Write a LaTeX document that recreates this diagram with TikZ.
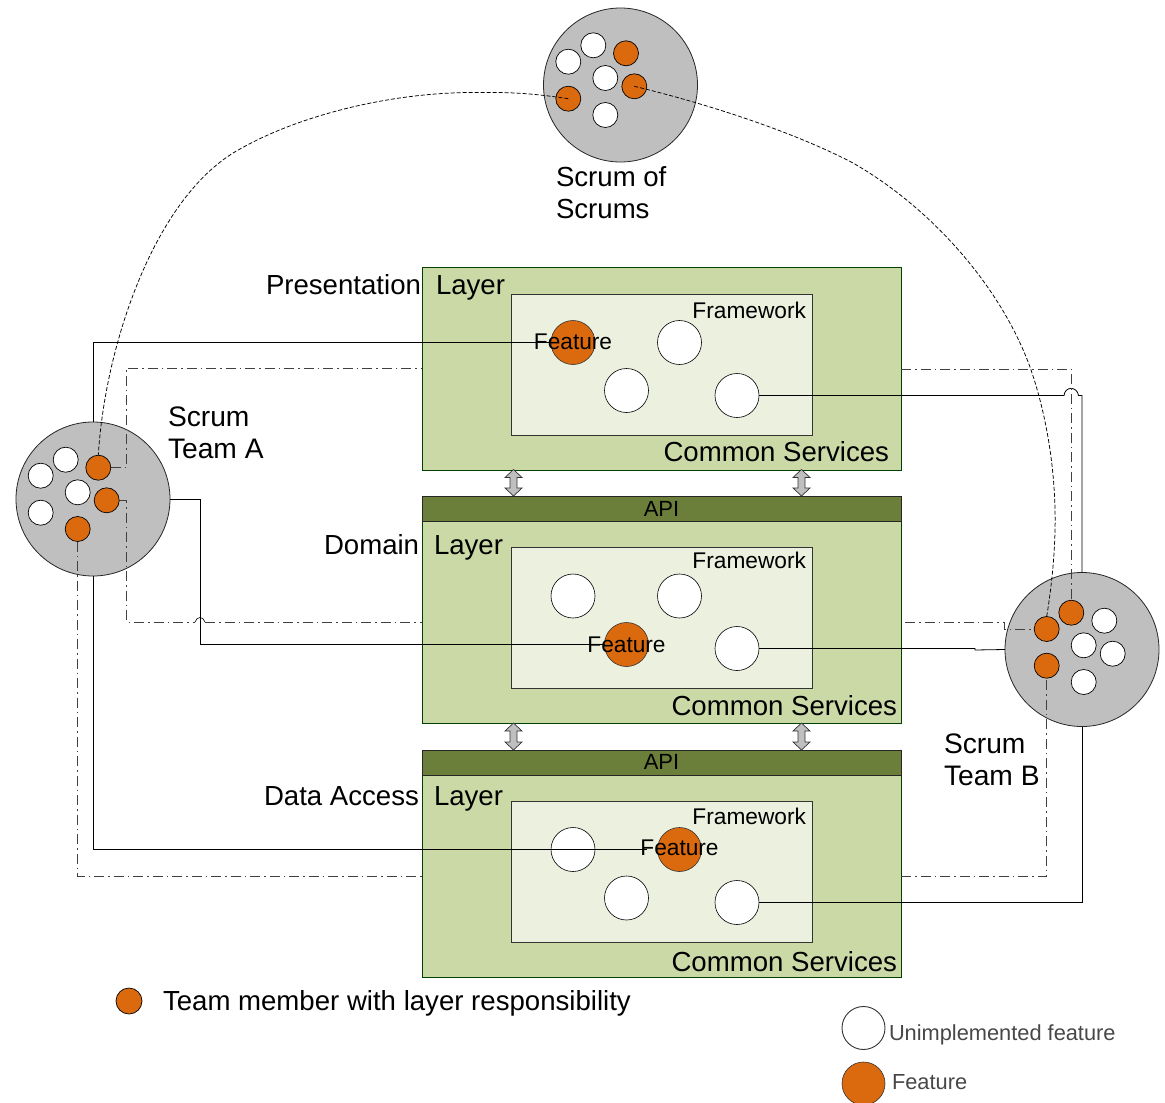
\documentclass[tikz,border=0pt]{standalone}
\usepackage{fontspec}
\setmainfont{Liberation Sans}
\pgfdeclarelayer{base}
\pgfdeclarelayer{conn}
\pgfsetlayers{base,conn,main}
\tikzset{
  px/.style={x=1pt,y=-1pt},
  every node/.style={inner sep=0pt,outer sep=0pt},
  layerbox/.style={draw=black!75!green,fill=layergreen,line width=0.8pt,anchor=north west},
  innerbox/.style={draw=black!80,fill=innergreen,line width=0.7pt,anchor=north west},
  apibar/.style={draw=black!85,fill=apigreen,line width=0.8pt,anchor=north west},
  team/.style={circle,draw=black!85,fill=teamgray,line width=0.8pt,minimum size=154pt},
  memberw/.style={circle,draw=black,fill=white,line width=0.7pt,minimum size=25pt},
  membero/.style={circle,draw=black,fill=featorange,line width=0.7pt,minimum size=25pt},
  featw/.style={circle,draw=black,fill=white,line width=0.6pt,minimum size=44pt},
  feato/.style={circle,draw=black!80,fill=featorange,line width=0.6pt,minimum size=44pt},
  big/.style={font=\fontsize{27.6}{32}\selectfont,anchor=west,align=left},
  bigbase/.style={big,anchor=base west},
  mid/.style={font=\fontsize{22.7}{27}\selectfont},
  feattxt/.style={mid,yshift=1.5pt},
  solidw/.style={draw=black,line width=0.8pt},
  dashw/.style={draw=black!75,line width=0.9pt,dash pattern=on 10pt off 4pt on 1.5pt off 4pt},
  curvew/.style={draw=black,line width=0.75pt,dash pattern=on 4pt off 2pt},
  dblarrow/.style={draw=black!80,fill=teamgray,line width=0.7pt},
  legendtxt/.style={font=\fontsize{21.8}{26}\selectfont,text=black!72,anchor=west},
}
\definecolor{layergreen}{HTML}{CBD9A7}
\definecolor{innergreen}{HTML}{EBF0DF}
\definecolor{apigreen}{HTML}{6B7F3A}
\definecolor{featorange}{HTML}{DB6A0E}
\definecolor{teamgray}{HTML}{BFBFBF}
\newcommand{\twoway}[3]{% x, top, bottom
  \filldraw[dblarrow] (#1,#2) -- (#1+8.5,#2+8) -- (#1+3.5,#2+8) -- (#1+3.5,#3-8) -- (#1+8.5,#3-8) -- (#1,#3)
    -- (#1-8.5,#3-8) -- (#1-3.5,#3-8) -- (#1-3.5,#2+8) -- (#1-8.5,#2+8) -- cycle;}
\begin{document}
\begin{tikzpicture}[px]
\useasboundingbox (0,0) rectangle (1165,1103);
\begin{pgfonlayer}{base}
  % layers
  \node[layerbox,minimum width=479pt,minimum height=203pt] (L1) at (422,267) {};
  \node[layerbox,minimum width=479pt,minimum height=227pt] (L2) at (422,496) {};
  \node[layerbox,minimum width=479pt,minimum height=227pt] (L3) at (422,750) {};
  \node[apibar,minimum width=479pt,minimum height=25pt] (A2) at (422,496) {};
  \node[apibar,minimum width=479pt,minimum height=25pt] (A3) at (422,750) {};
  \node[innerbox,minimum width=301pt,minimum height=141pt] (I1) at (511,294) {};
  \node[innerbox,minimum width=301pt,minimum height=141pt] (I2) at (511,547) {};
  \node[innerbox,minimum width=301pt,minimum height=141pt] (I3) at (511,801) {};
  % team circles
  \node[team] (TA) at (93,499) {};
  \node[team] (TB) at (1082,649.5) {};
  \node[team] (TS) at (620.5,85) {};
  % double arrows
  \twoway{513.5}{469.5}{496}
  \twoway{801.5}{469.5}{496}
  \twoway{513.5}{723}{750}
  \twoway{801.5}{723}{750}
\end{pgfonlayer}

% API labels
\node[font=\fontsize{22}{26}\selectfont] (apiA) at (661.5,508.5) {API};
\node[font=\fontsize{22}{26}\selectfont] (apiB) at (661.5,762) {API};

% layer labels
\node[bigbase] (n1) at (266,294) {Presentation};
\node[bigbase] (n1b) at (436,294) {Layer};
\node[bigbase] (n2) at (324,554) {Domain};
\node[bigbase] (n2b) at (434,554) {Layer};
\node[bigbase] (n3) at (264,805) {Data Access};
\node[bigbase] (n3b) at (434,805) {Layer};
\node[big,anchor=east] (c1) at (889,452) {Common Services};
\node[big,anchor=east] (c2) at (897,706) {Common Services};
\node[big,anchor=east] (c3) at (897,962) {Common Services};
\node[mid,anchor=east] (f1t) at (806,310) {Framework};
\node[mid,anchor=east] (f2t) at (806,560) {Framework};
\node[mid,anchor=east] (f3t) at (806,816) {Framework};

% feature circles
\node[feato,label={[mid,yshift=0.6pt]center:Feature}] (p1) at (573,342.5) {};
\node[featw] (p2) at (679.5,342.5) {};
\node[featw] (p3) at (626.5,390.5) {};
\node[featw] (p4) at (737,395.5) {};
\node[featw] (d1) at (573,596) {};
\node[featw] (d2) at (679.5,596) {};
\node[feato,label={[mid]center:Feature}] (d3) at (626.5,644.5) {};
\node[featw] (d4) at (737,648.5) {};
\node[featw] (a1) at (573,849.5) {};
\node[feato,label={[feattxt]center:Feature}] (a2) at (679.5,849.5) {};
\node[featw] (a3) at (626.5,898) {};
\node[featw] (a4) at (737,902.5) {};

% team A members
\node[memberw] (A1) at (65.7,459.7) {};
\node[memberw] (A4) at (40.7,475.7) {};
\node[memberw] (A5) at (77.7,492.3) {};
\node[memberw] (A6) at (40.7,512.7) {};
\node[membero] (Ao1) at (98.3,467.7) {};
\node[membero] (Ao2) at (106.7,500.3) {};
\node[membero] (Ao3) at (77.7,529) {};
% team B members
\node[memberw] (B1) at (1104.3,620.7) {};
\node[memberw] (B2) at (1083.7,645.3) {};
\node[memberw] (B3) at (1112.7,653.7) {};
\node[memberw] (B4) at (1083.7,682) {};
\node[membero] (Bo1) at (1071.3,612.7) {};
\node[membero] (Bo2) at (1046.7,629) {};
\node[membero] (Bo3) at (1046.7,665.7) {};
% scrum of scrums members
\node[memberw] (S1) at (593.3,45.3) {};
\node[memberw] (S2) at (568.3,61.7) {};
\node[memberw] (S3) at (605.3,78) {};
\node[memberw] (S4) at (605.3,115) {};
\node[membero] (So1) at (626,53.3) {};
\node[membero] (So2) at (634.3,86.3) {};
\node[membero] (So3) at (568.3,98.7) {};

% team labels
\node[big] (ts) at (556,193) {Scrum of\\Scrums};
\node[big,font=\fontsize{28.2}{32}\selectfont] (ta) at (168,432.5) {Scrum\\Team A};
\node[big,font=\fontsize{28.2}{32}\selectfont] (tb) at (944,760) {Scrum\\Team B};

% legend
\node[membero,minimum size=26pt] (lg0) at (129,1001) {};
\node[bigbase] (lg0t) at (163,1010) {Team member with layer responsibility};
\node[featw,minimum size=43pt,draw=black!80,line width=0.9pt] (lg1) at (863.5,1028) {};
\node[feato,minimum size=43pt] (lg2) at (863.5,1083.5) {};
\node[legendtxt] (lg1t) at (889,1035) {Unimplemented feature};
\node[legendtxt] (lg2t) at (892,1082) {Feature};

% waypoints
\coordinate (hopL1) at (195,622);
\coordinate (hopL2) at (205,622);
\coordinate (hopR1) at (1064,395.5);
\coordinate (hopR2) at (1078.5,395.5);
\coordinate (cornerR) at (1082,395.5);
\coordinate (dR1) at (901,369);
\coordinate (dR2) at (905,622);
\coordinate (dR3) at (1004,622);
\coordinate (dR4) at (1004,629);
\coordinate (dR5) at (901,876);
\coordinate (dL1) at (422,368);
\coordinate (dL2) at (422,622);
\coordinate (dL3) at (422,876);
\coordinate (jog1) at (975,648.5);
\coordinate (jog2) at (975,650);
\coordinate (aEnd) at (647,849.5);
\coordinate (cL1) at (470,92.5);
\coordinate (cL2) at (240,149);
\coordinate (cR1) at (853,163);
\coordinate (cR2) at (1030,367);
\coordinate (cR3) at (1055,510);

\begin{pgfonlayer}{conn}
  % solid connectors, team A
  \draw[solidw] (TA.north) |- (p1.west);
  \draw[solidw] (TA.east) -| (200,644.5) -- (d3.west);
  % solid connectors, team B
  \draw[solidw] (p4.east) -- (hopR1) .. controls (1065,386) and (1077,386) .. (hopR2) -- (cornerR) -- (TB.north);
  \draw[solidw] (d4.east) -- (jog1) -- (jog2) -- (TB.west);
  \draw[solidw] (a4.east) -| (TB.south);
  % dash-dot connectors, team A
  \draw[dashw] (Ao1.east) -| (126.5,368) -- (dL1);
  \draw[dashw] (Ao2.east) -| (126.5,622) -- (hopL1);
  \draw[solidw,line width=0.6pt] (hopL1) .. controls (197,616) and (203,616) .. (hopL2);
  \draw[dashw] (hopL2) -- (dL2);
  \draw[dashw] (Ao3.south) |- (dL3);
  % dash-dot connectors, team B
  \draw[dashw] (dR1) -| (Bo1.north);
  \draw[dashw] (dR2) -- (dR3) -- (dR4) -- (Bo2.west);
  \draw[dashw] (dR5) -| (Bo3.south);
\end{pgfonlayer}

% this line runs over the white circle and stops under the label
\draw[solidw] (TA.south) |- (aEnd);

% dashed links to the scrum of scrums
\draw[curvew] (So3.center) .. controls (530,93) and (510,92) .. (cL1)
  .. controls (390,93) and (300,115) .. (cL2)
  .. controls (155,195) and (105,345) .. (Ao1.north);
\draw[curvew] (So2.center) .. controls (700,102) and (790,130) .. (cR1)
  .. controls (930,207) and (1000,285) .. (cR2)
  .. controls (1045,410) and (1054,460) .. (cR3)
  .. controls (1056,550) and (1051,590) .. (Bo2.north);
\end{tikzpicture}
\end{document}
